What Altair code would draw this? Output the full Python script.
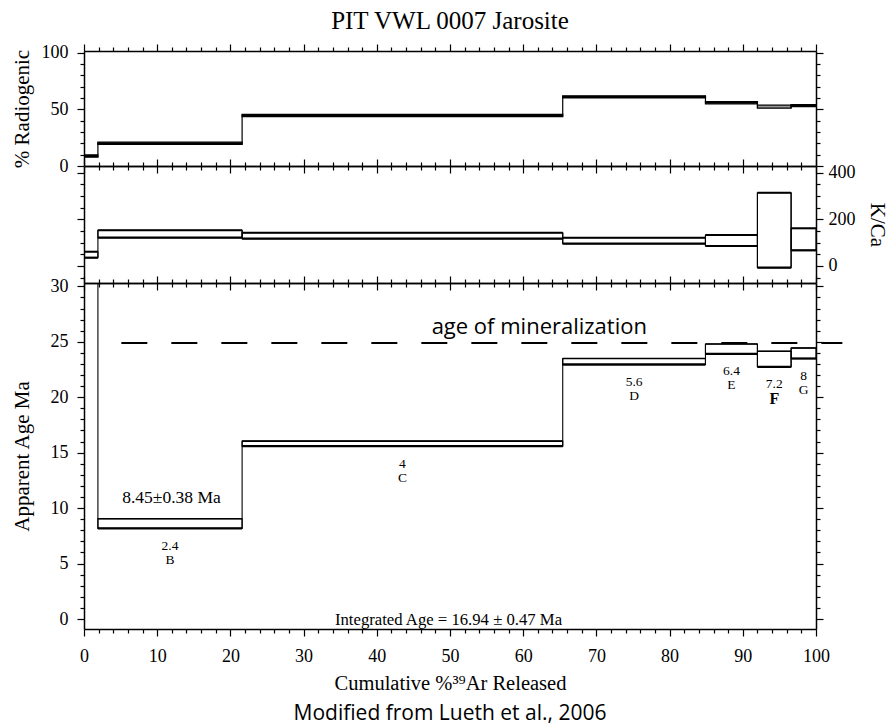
import altair as alt
import pandas as pd

# ---------------- data ----------------
steps = ["A", "B", "C", "D", "E", "F", "G"]
x_start = [0.0, 1.9, 21.6, 65.4, 84.9, 92.0, 96.6]
x_end = [1.9, 21.6, 65.4, 84.9, 92.0, 96.6, 100.0]
rad_lo = [7.8, 19.0, 43.6, 60.0, 54.9, 51.0, 52.4]
rad_hi = [9.8, 21.0, 45.6, 62.0, 56.9, 53.7, 54.2]
kca_lo = [35.6, 121.4, 117.0, 95.6, 85.7, -7.3, 67.2]
kca_hi = [61.3, 153.0, 142.8, 121.4, 132.9, 314.0, 161.6]
age_lo = [40.0, 8.17, 15.59, 22.95, 23.90, 22.73, 23.49]
age_hi = [45.0, 9.04, 16.04, 23.49, 24.80, 24.14, 24.44]
step_num = ["", "2.4", "4", "5.6", "6.4", "7.2", "8"]

mineral_age = [24.9]
mineral_x0 = [5.1]
mineral_x1 = [103.6]
mineral_text = ["age of mineralization"]
mineral_text_x = [62.2]
mineral_text_y = [25.7]

plateau_text = ["8.45\u00b10.38 Ma"]
plateau_x = [11.95]
plateau_y = [10.9]

integ_text = ["Integrated Age = 16.94 \u00b1 0.47 Ma"]
integ_x = [49.8]
integ_y = [0.0]

x_ticks = list(range(0, 101, 2))
rad_ticks = list(range(0, 101, 10))
kca_ticks = list(range(-50, 426, 50))
age_ticks = list(range(0, 31, 1))

SERIF = "Liberation Serif"
SANS = "Open Sans"

df = pd.DataFrame({
    "step": steps, "x0": x_start, "x1": x_end,
    "rad_lo": rad_lo, "rad_hi": rad_hi,
    "kca_lo": kca_lo, "kca_hi": kca_hi,
    "age_lo": age_lo, "age_hi": age_hi,
    "num": step_num,
})
df["xc"] = (df["x0"] + df["x1"]) / 2

conn_rows = []
for i in range(len(steps) - 1):
    conn_rows.append({
        "x": x_end[i],
        "rad_lo": min(rad_lo[i], rad_lo[i + 1]), "rad_hi": max(rad_hi[i], rad_hi[i + 1]),
        "kca_lo": min(kca_lo[i], kca_lo[i + 1]), "kca_hi": max(kca_hi[i], kca_hi[i + 1]),
        "age_lo": min(age_lo[i], age_lo[i + 1]), "age_hi": max(age_hi[i], age_hi[i + 1]),
    })
conn = pd.DataFrame(conn_rows)

lab = df[df["step"] != "A"]

W = 732
xs = alt.Scale(domain=[0, 100], nice=False, zero=False)


def ax(orient, values, major, labels=False, title=None, tpad=5, lpad=4, tsize=21):
    kw = dict(orient=orient, values=values, grid=False, labelFlush=False,
              labelOverlap=False, title=title, titlePadding=tpad, labelPadding=lpad,
              tickSize={"condition": {"test": major, "value": 7}, "value": 4},
              labelFont=SERIF, labelFontSize=18, labelColor="black",
              titleFont=SERIF, titleFontSize=tsize, titleFontWeight="normal",
              titleColor="black", domainColor="black", domainWidth=1.5,
              tickColor="black", tickWidth=1.2)
    if labels:
        kw["labelExpr"] = "(" + major + ") ? datum.label : ''"
    else:
        kw["labels"] = False
    return alt.Axis(**kw)


XM = "datum.value % 10 === 0"

# ---------------- top panel: % radiogenic ----------------
ys_rad = alt.Scale(domain=[0, 101.5], nice=False, zero=False)
RM = "datum.value % 50 === 0"
top_rect = alt.Chart(df).mark_rect(stroke="black", strokeWidth=1.2, clip=True).encode(
    x=alt.X("x0:Q", scale=xs, axis=ax("bottom", x_ticks, XM)),
    x2="x1:Q",
    y=alt.Y("rad_lo:Q", scale=ys_rad,
            axis=ax("left", rad_ticks, RM, labels=True, title="% Radiogenic", tpad=9, lpad=9)),
    y2="rad_hi:Q",
    fill=alt.condition(alt.datum.step == "F", alt.value("#9a9a9a"), alt.value("black")),
)
top_conn = alt.Chart(conn).mark_rule(strokeWidth=1.2, color="black", clip=True).encode(
    x=alt.X("x:Q", scale=xs, axis=ax("top", x_ticks, XM)),
    y=alt.Y("rad_lo:Q", scale=ys_rad, axis=ax("right", rad_ticks, RM)),
    y2="rad_hi:Q",
)
top = alt.layer(top_rect, top_conn).resolve_axis(x="independent", y="independent").properties(
    width=W, height=115,
    title=alt.TitleParams("PIT VWL 0007 Jarosite", font=SERIF, fontSize=25,
                          fontWeight="normal", anchor="middle", offset=9, color="black"),
)

# ---------------- middle panel: K/Ca ----------------
ys_k = alt.Scale(domain=[-73, 429], nice=False, zero=False)
KM = "datum.value % 200 === 0"
mid_rect = alt.Chart(df).mark_rect(stroke="black", strokeWidth=1.1, fillOpacity=0, clip=True).encode(
    x=alt.X("x0:Q", scale=xs, axis=ax("bottom", x_ticks, XM)),
    x2="x1:Q",
    y=alt.Y("kca_lo:Q", scale=ys_k, axis=ax("left", kca_ticks, KM)),
    y2="kca_hi:Q",
)
mid_conn = alt.Chart(conn).mark_rule(strokeWidth=1.1, color="black", clip=True).encode(
    x=alt.X("x:Q", scale=xs, axis=ax("top", x_ticks, XM)),
    y=alt.Y("kca_lo:Q", scale=ys_k,
            axis=ax("right", kca_ticks, KM, labels=True, title="K/Ca", tpad=11, lpad=5)),
    y2="kca_hi:Q",
)
mid_lo = alt.Chart(df).mark_rule(strokeWidth=2.2, color="black", clip=True).encode(
    x=alt.X("x0:Q", scale=xs, axis=None), x2="x1:Q",
    y=alt.Y("kca_lo:Q", scale=ys_k, axis=None),
)
mid_hi = alt.Chart(df).mark_rule(strokeWidth=2.0, color="black", clip=True).encode(
    x=alt.X("x0:Q", scale=xs, axis=None), x2="x1:Q",
    y=alt.Y("kca_hi:Q", scale=ys_k, axis=None),
)
mid = alt.layer(mid_rect, mid_conn, mid_lo, mid_hi).resolve_axis(
    x="independent", y="independent").properties(width=W, height=117)

# ---------------- bottom panel: apparent age ----------------
ys_a = alt.Scale(domain=[-0.9, 30.3], nice=False, zero=False)
AM = "datum.value % 5 === 0"
age_rect = alt.Chart(df).mark_rect(stroke="black", strokeWidth=1.1, fillOpacity=0, clip=True).encode(
    x=alt.X("x0:Q", scale=xs,
            axis=ax("bottom", x_ticks, XM, labels=True,
                    title="Cumulative %\u00b3\u2079Ar Released", tpad=8, lpad=11, tsize=20.5)),
    x2="x1:Q",
    y=alt.Y("age_lo:Q", scale=ys_a,
            axis=ax("left", age_ticks, AM, labels=True, title="Apparent Age Ma", tpad=18, lpad=9)),
    y2="age_hi:Q",
)
age_conn = alt.Chart(conn).mark_rule(strokeWidth=1.1, color="black", clip=True).encode(
    x=alt.X("x:Q", scale=xs, axis=ax("top", x_ticks, XM)),
    y=alt.Y("age_lo:Q", scale=ys_a, axis=ax("right", age_ticks, AM)),
    y2="age_hi:Q",
)
age_lo_r = alt.Chart(df).mark_rule(strokeWidth=2.3, color="black", clip=True).encode(
    x=alt.X("x0:Q", scale=xs, axis=None), x2="x1:Q",
    y=alt.Y("age_lo:Q", scale=ys_a, axis=None),
)
age_hi_r = alt.Chart(df).mark_rule(strokeWidth=1.6, color="black", clip=True).encode(
    x=alt.X("x0:Q", scale=xs, axis=None), x2="x1:Q",
    y=alt.Y("age_hi:Q", scale=ys_a, axis=None),
)
min_df = pd.DataFrame({"x0": mineral_x0, "x1": mineral_x1, "y": mineral_age})
min_rule = alt.Chart(min_df).mark_rule(strokeWidth=2, color="black", strokeDash=[26, 24]).encode(
    x=alt.X("x0:Q", scale=xs, axis=None), x2="x1:Q",
    y=alt.Y("y:Q", scale=ys_a, axis=None),
)
min_txt_df = pd.DataFrame({"x": mineral_text_x, "y": mineral_text_y, "t": mineral_text})
min_txt = alt.Chart(min_txt_df).mark_text(font=SANS, fontSize=22, baseline="alphabetic",
                                          align="center", color="black").encode(
    x=alt.X("x:Q", scale=xs, axis=None), y=alt.Y("y:Q", scale=ys_a, axis=None), text="t:N")
num_txt = alt.Chart(lab).mark_text(font=SERIF, fontSize=13.5, dy=17.5, baseline="middle",
                                   color="black").encode(
    x=alt.X("xc:Q", scale=xs, axis=None), y=alt.Y("age_lo:Q", scale=ys_a, axis=None), text="num:N")
let_txt = alt.Chart(lab[lab["step"] != "F"]).mark_text(font=SERIF, fontSize=13.5, dy=31.5,
                                                      baseline="middle", color="black").encode(
    x=alt.X("xc:Q", scale=xs, axis=None), y=alt.Y("age_lo:Q", scale=ys_a, axis=None), text="step:N")
let_f = alt.Chart(lab[lab["step"] == "F"]).mark_text(font=SERIF, fontSize=16, fontWeight="bold",
                                                    dy=32, baseline="middle", color="black").encode(
    x=alt.X("xc:Q", scale=xs, axis=None), y=alt.Y("age_lo:Q", scale=ys_a, axis=None), text="step:N")
pl_df = pd.DataFrame({"x": plateau_x, "y": plateau_y, "t": plateau_text})
pl_txt = alt.Chart(pl_df).mark_text(font=SERIF, fontSize=17.5, baseline="middle", color="black").encode(
    x=alt.X("x:Q", scale=xs, axis=None), y=alt.Y("y:Q", scale=ys_a, axis=None), text="t:N")
in_df = pd.DataFrame({"x": integ_x, "y": integ_y, "t": integ_text})
in_txt = alt.Chart(in_df).mark_text(font=SERIF, fontSize=16.7, baseline="alphabetic", dy=6,
                                    color="black").encode(
    x=alt.X("x:Q", scale=xs, axis=None), y=alt.Y("y:Q", scale=ys_a, axis=None), text="t:N")

bot = alt.layer(age_rect, age_conn, age_lo_r, age_hi_r, min_rule, min_txt,
                num_txt, let_txt, let_f, pl_txt, in_txt).resolve_axis(
    x="independent", y="independent").properties(
    width=W, height=346,
    title=alt.TitleParams("Modified from Lueth et al., 2006", orient="bottom", font=SANS,
                          fontSize=21, fontWeight="normal", anchor="middle", offset=9,
                          color="black"),
)

chart = alt.vconcat(top, mid, bot, spacing=0, bounds="flush").properties(
    padding={"left": 10, "top": 8, "right": 0, "bottom": 0},
).configure_view(stroke="black", strokeWidth=1.2).configure(background="white")

chart.save("out.html", embed_options={"renderer": "svg", "actions": False})
